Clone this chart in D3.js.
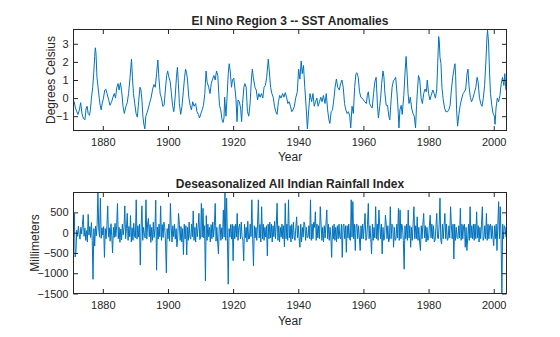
<!DOCTYPE html>
<html><head><meta charset="utf-8">
<script src="https://cdn.jsdelivr.net/npm/d3@7"></script>
<style>
body{margin:0;background:#fff}
svg{display:block}
text{font-family:"Liberation Sans",Arial,Helvetica,sans-serif;fill:#262626}
</style>
</head><body>
<svg id="chart" width="560" height="337"></svg>
<script>
// ---------------- DATA ----------------
const sstYears = [
1871.0,1871.2,1871.6,1872.0,1872.4,1872.8,1873.2,1873.6,1874.0,1874.5,1874.9,1875.2,1875.5,1875.9,1876.2,1876.5,1876.9,1877.2,1877.5,1877.7,1877.9,
1878.2,1878.6,1878.9,1879.2,1879.5,1879.8,1880.2,1880.6,1880.9,1881.3,1881.8,1882.2,1882.7,1883.1,1883.5,1883.9,1884.3,1884.7,1885.0,1885.4,1885.8,
1886.2,1886.6,1887.1,1887.5,1887.9,1888.3,1888.6,1888.8,1889.1,1889.4,1889.8,1890.2,1890.6,1891.0,1891.4,1891.7,1892.0,1892.3,1892.6,1892.9,
1893.2,1893.6,1894.0,1894.4,1894.8,1895.3,1895.7,1896.1,1896.5,1896.9,1897.2,1897.6,1898.0,1898.4,1898.8,1899.2,1899.6,1899.9,
1900.3,1900.7,1901.0,1901.4,1901.8,1902.2,1902.6,1902.9,1903.2,1903.5,1903.9,1904.3,1904.7,1905.1,1905.4,1905.7,1906.0,1906.4,1906.8,
1907.2,1907.6,1908.0,1908.5,1908.9,1909.3,1909.7,1910.1,1910.5,1910.9,1911.3,1911.7,1912.0,1912.5,1912.9,1913.3,1913.7,1914.1,1914.5,1914.9,1915.3,
1915.8,1916.2,1916.6,1916.9,1917.2,1917.4,1917.8,1918.2,1918.5,1918.8,1919.1,1919.5,1919.8,1920.2,1920.6,1920.9,1921.2,1921.5,1921.9,
1922.3,1922.6,1922.9,1923.3,1923.6,1924.0,1924.4,1924.8,1925.2,1925.6,1925.9,1926.2,1926.7,1927.1,1927.5,1927.9,1928.3,1928.7,
1929.1,1929.5,1929.9,1930.3,1930.8,1931.1,1931.5,1931.9,1932.3,1932.7,1933.1,1933.5,1933.9,1934.3,1934.7,1935.2,1935.6,1936.0,1936.4,1936.8,
1937.2,1937.6,1938.0,1938.4,1938.8,1939.2,1939.7,1940.1,1940.5,1940.9,1941.2,1941.6,1942.0,1942.4,1942.8,1943.2,1943.6,1944.1,1944.5,1944.9,
1945.3,1945.7,1946.1,1946.5,1946.9,1947.3,1947.7,1948.2,1948.6,1949.0,1949.4,1949.7,1950.1,1950.5,1950.9,1951.3,1951.7,1952.1,1952.6,
1953.0,1953.4,1953.8,1954.2,1954.6,1955.0,1955.4,1955.8,1956.1,1956.5,1956.9,1957.3,1957.7,1958.0,1958.4,1958.8,1959.2,1959.6,
1960.0,1960.4,1960.9,1961.2,1961.5,1961.9,1962.3,1962.7,1963.1,1963.5,1963.9,1964.3,1964.6,1965.0,1965.3,1965.6,1966.0,1966.3,1966.6,
1967.0,1967.4,1967.8,1968.1,1968.5,1968.8,1969.2,1969.6,1969.9,1970.2,1970.5,1970.7,1970.9,1971.2,1971.6,1971.9,1972.4,1972.8,
1973.1,1973.4,1973.7,1974.0,1974.4,1974.8,1975.2,1975.6,1976.0,1976.3,1976.6,1976.9,1977.3,1977.7,1978.1,1978.5,1978.9,1979.3,1979.6,
1980.0,1980.4,1980.8,1981.3,1981.7,1982.1,1982.5,1982.8,1983.1,1983.3,1983.5,1983.8,1984.1,1984.5,1984.9,1985.3,1985.8,1986.2,1986.6,
1987.0,1987.4,1987.8,1988.1,1988.3,1988.6,1988.9,1989.3,1989.7,1990.2,1990.6,1991.0,1991.4,1991.8,1992.1,1992.4,1992.8,1993.2,1993.6,
1994.0,1994.5,1994.9,1995.2,1995.6,1996.0,1996.4,1996.8,1997.2,1997.6,1997.9,1998.1,1998.4,1998.7,1999.0,1999.4,1999.8,
2000.2,2000.4,2000.7,2001.1,2001.5,2001.9,2002.3,2002.7,2003.1,2003.4,2003.7,2003.9
];
const sstValues = [
-0.3,-0.2,-0.55,-0.75,-0.9,-0.65,-0.25,-0.85,-1.1,-1.2,-0.55,-0.45,-0.85,-0.95,-0.65,0.0,0.6,1.35,2.3,2.78,2.5,
1.15,0.5,0.0,-0.4,-0.65,-0.3,0.0,0.45,0.5,0.25,-0.1,-0.4,-0.2,0.05,0.25,0.0,0.6,0.8,0.45,0.85,0.35,
-0.45,-0.85,-0.45,-0.25,0.25,1.0,1.7,2.15,1.15,0.25,-0.3,-0.85,-1.05,-0.2,0.6,0.45,-0.1,-1.0,-1.45,-1.7,
-1.0,-0.8,-0.55,-0.25,0.0,0.5,0.75,0.6,1.35,2.1,1.15,0.25,0.0,-0.45,-0.4,0.45,1.25,1.5,
1.15,0.9,0.35,-0.4,-0.75,0.05,1.15,1.7,0.8,-0.3,-0.9,-0.45,0.35,1.15,1.6,1.4,1.0,0.05,-0.4,
-0.65,-0.2,-0.45,-0.3,-0.75,-0.9,-1.1,-0.85,-0.65,-0.4,0.25,1.5,0.9,0.6,0.25,0.8,1.05,1.25,1.0,1.5,1.25,
-0.4,-0.65,-1.2,-1.35,-1.1,0.05,-1.0,0.25,1.35,1.9,1.5,0.6,1.0,1.1,0.45,-0.1,-1.3,-0.1,-0.2,
-0.55,-1.3,-0.3,0.6,0.8,0.6,-0.75,-1.0,-0.3,1.0,1.6,1.15,0.6,0.45,-0.1,0.25,0.05,0.25,
0.0,0.6,0.7,1.15,2.15,1.5,0.6,0.25,0.05,-0.45,-0.75,-0.9,-0.2,0.15,0.0,0.25,0.05,0.3,0.05,-0.3,
-0.2,-0.45,-0.75,-0.65,-0.45,0.0,0.35,1.6,1.05,2.05,1.35,1.8,0.6,-0.45,-1.7,-0.65,0.25,-0.2,0.25,-0.45,
-0.2,0.0,-0.45,-0.2,0.05,-0.2,0.15,-0.3,0.25,-0.65,-1.2,-1.4,-0.75,-0.65,-0.1,0.6,1.05,0.6,0.45,
0.8,1.0,0.6,-0.3,-0.65,-0.85,-0.75,-1.0,-1.65,-0.45,-0.85,0.6,1.35,1.4,1.15,0.35,0.05,0.0,
-0.1,-0.2,-0.3,0.15,0.35,-0.3,-0.45,-0.55,0.25,0.9,1.15,-0.4,-1.1,-0.45,0.05,0.8,1.5,1.15,0.25,
-0.4,-0.4,-1.0,-1.2,-0.1,0.6,0.95,1.05,1.15,0.5,-0.2,-0.85,-1.65,-0.65,-0.4,-0.9,0.15,1.5,
2.3,1.35,0.25,-0.3,0.05,-0.55,-0.85,-1.0,-1.65,-0.4,0.45,1.25,1.0,0.0,-0.3,0.25,0.5,0.35,1.0,
0.25,-0.1,0.15,0.45,0.25,0.0,0.45,1.9,3.4,3.1,2.25,1.9,0.6,-0.1,-0.55,-0.75,-0.75,-0.65,-0.4,
0.45,1.15,1.6,1.9,1.25,-0.65,-1.55,-0.9,-0.4,0.0,0.25,0.35,0.5,1.35,1.6,0.7,0.05,-0.2,0.0,
0.25,0.6,1.15,0.9,0.05,-0.3,-0.45,0.0,0.7,2.05,3.3,3.75,3.1,1.5,0.25,-0.4,-0.85,
-1.0,-1.45,-0.55,0.0,-0.2,0.15,0.8,1.15,0.7,1.35,0.5,0.4
];

const rainStartYear = 1871;
const rainPerYear = 4;
const rainValues = [
110,470,-600,-480, 60,-90,160,-40, -160,130,-30,210, 440,-90,110,-190, 50,-230,450,-60,
150,-120,250,-190, -1150,100,-330,160, -80,200,980,90, -110,850,-140,120, -60,150,-610,100,
-150,170,660,-110, 120,-210,220,-80, -500,130,-120,230, -100,170,720,-150, 130,-240,90,-180,
210,-60,120,660, -150,100,475,-190, 150,-100,420,-230, 120,-190,230,-90, -130,810,-160,170,
-110,210,-800,120, 660,-190,130,-60, -130,810,-160,210, 350,-100,200,-240, 130,-190,260,-120,
100,800,-925,140, -160,210,-100,660, -190,200,-120,260, 130,-230,-990,100, -150,210,-210,720,
120,-230,170,-100, 210,-160,100,-350, -130,475,200,-190, 150,-230,100,-540, 210,-150,170,-550,
130,-190,260,-120, -160,210,-100,535, -190,130,-230,230, -100,130,475,-170, -150,720,-110,600,
-130,170,-1190,420, -190,210,-100,130, -230,200,-150,260, -110,170,720,-210, 130,-230,-525,170,
210,-190,120,-150, 560,-110,985,-190, 850,-150,-1270,100, -110,200,-160,210, -690,170,-150,210,
-110,475,-190,130, 210,-150,260,-100, -190,-690,210,-130, 130,-230,280,-160, -150,210,-100,810,
-150,-820,170,-130, 130,-190,210,810, -130,200,-230,640, -150,210,-190,130, -110,170,-570,210,
-150,260,-130,210, -230,170,-100,280, -150,210,725,-190, 170,-230,130,-110, 210,-150,170,-350,
725,-150,210,-190, 810,-130,170,-230, 200,-150,260,-110, -190,130,390,-130, 170,-150,-360,210,
-230,130,-110,260, 210,-190,130,-130, -110,170,-150,810, -190,210,-150,260, 130,515,-190,210,
-130,170,-150,640, 210,-190,130,-230, 170,-130,210,560, -150,210,-190,130, -110,-610,170,-150,
210,-190,130,-230, 170,-150,210,-110, -150,210,-610,170, 210,-150,170,-485, 170,-130,210,-150,
-190,810,-110,765, -150,210,-440,170, 210,-150,170,-130, -440,170,-150,210, -150,170,475,-190,
-130,210,720,-150, 170,-150,-525,210, -190,130,-130,640, -150,210,-190,560, 170,-150,210,-525,
130,-190,-130,430, 210,-150,170,-230, -130,640,-150,210, 170,-360,130,-190, -150,210,-130,600,
-190,560,-150,210, 130,-190,-900,170, -150,210,-190,560, -130,170,-360,130, -190,210,640,-150,
170,-150,390,-190, 130,-230,-440,170, -150,210,475,-130, 170,-230,130,-190, -150,170,430,-130,
210,-150,170,-230, -190,130,475,-130, -150,210,850,-190, -275,210,-150,170, 475,-150,210,-190,
-150,170,-130,640, 170,-150,210,-650, 210,-190,130,-130, -150,170,-130,600, -190,210,-150,170,
210,-360,130,-440, -150,210,-190,640, -130,170,-150,210, -190,210,-150,515, -130,170,-230,130,
-150,210,640,-190, -130,170,-150,475, -190,210,-150,170, 210,-150,170,-130, -320,170,-150,210,
-440,170,765,-150, 640,-150,-1500,210, -150,170,130,-110
];

const xTickValues = [1880, 1900, 1920, 1940, 1960, 1980, 2000];
const sstTickValues = [-1, 0, 1, 2, 3];
const rainTickValues = [-1500, -1000, -500, 0, 500];
const panelTitles = ["El Nino Region 3 -- SST Anomalies", "Deseasonalized All Indian Rainfall Index"];
const yLabels = ["Degrees Celsius", "Millimeters"];
const xLabel = "Year";

// ---------------- CHART ----------------
const svg = d3.select("#chart");
const axisColor = "#262626";
const lineColor = "#0072BD";
const left = 73.5, right = 506.5;
const xDomain = [1871, 2003.917];

const rainYears = rainValues.map((_, i) => rainStartYear + i / rainPerYear);

const panels = [
  { top: 29.5, bottom: 130.5, domain: [-1.79, 3.79], ticks: sstTickValues,
    xs: sstYears, ys: sstValues, title: panelTitles[0], ylabel: yLabels[0],
    titleY: 25, ylabelX: 55, xlabelY: 160.5 },
  { top: 192.5, bottom: 293.5, domain: [-1500, 990], ticks: rainTickValues,
    xs: rainYears, ys: rainValues, title: panelTitles[1], ylabel: yLabels[1],
    titleY: 188, ylabelX: 38.5, xlabelY: 324.5 }
];

panels.forEach((p, k) => {
  const x = d3.scaleLinear().domain(xDomain).range([left, right]);
  const y = d3.scaleLinear().domain(p.domain).range([p.bottom, p.top]);
  const g = svg.append("g");

  const clipId = "clip" + k;
  svg.append("clipPath").attr("id", clipId).append("rect")
    .attr("x", left).attr("y", p.top).attr("width", right - left).attr("height", p.bottom - p.top);

  const line = d3.line().x((d, i) => x(p.xs[i])).y(d => y(d));
  g.append("path").datum(p.ys)
    .attr("clip-path", `url(#${clipId})`)
    .attr("fill", "none").attr("stroke", lineColor).attr("stroke-width", 1)
    .attr("stroke-linejoin", "round")
    .attr("d", line);

  const styleAxis = sel => {
    sel.select(".domain").remove();
    sel.selectAll("line").attr("stroke", axisColor);
    sel.selectAll("text").attr("fill", axisColor)
      .style("font-size", "11px").style("font-family", '"Liberation Sans",Arial,Helvetica,sans-serif');
  };

  g.append("g").attr("transform", `translate(0,${p.bottom})`)
    .call(d3.axisBottom(x).tickValues(xTickValues).tickFormat(d3.format("d")).tickSizeInner(-4.5).tickSizeOuter(0).tickPadding(8))
    .call(styleAxis);
  g.append("g").attr("transform", `translate(0,${p.top})`)
    .call(d3.axisTop(x).tickValues(xTickValues).tickFormat("").tickSizeInner(-4.5).tickSizeOuter(0))
    .call(styleAxis);
  g.append("g").attr("transform", `translate(${left},0)`)
    .call(d3.axisLeft(y).tickValues(p.ticks).tickFormat(d3.format("d")).tickSizeInner(-4.5).tickSizeOuter(0).tickPadding(5))
    .call(styleAxis);
  g.append("g").attr("transform", `translate(${right},0)`)
    .call(d3.axisRight(y).tickValues(p.ticks).tickFormat("").tickSizeInner(-4.5).tickSizeOuter(0))
    .call(styleAxis);

  g.append("rect").attr("x", left).attr("y", p.top)
    .attr("width", right - left).attr("height", p.bottom - p.top)
    .attr("fill", "none").attr("stroke", axisColor).attr("stroke-width", 1);

  g.append("text").attr("x", (left + right) / 2).attr("y", p.titleY)
    .attr("text-anchor", "middle").style("font-size", "12px").style("font-weight", "bold")
    .text(p.title);
  g.append("text").attr("x", (left + right) / 2).attr("y", p.xlabelY)
    .attr("text-anchor", "middle").style("font-size", "12px").text(xLabel);
  g.append("text")
    .attr("transform", `translate(${p.ylabelX},${(p.top + p.bottom) / 2}) rotate(-90)`)
    .attr("text-anchor", "middle").style("font-size", "12px").text(p.ylabel);
});
</script>
</body></html>
